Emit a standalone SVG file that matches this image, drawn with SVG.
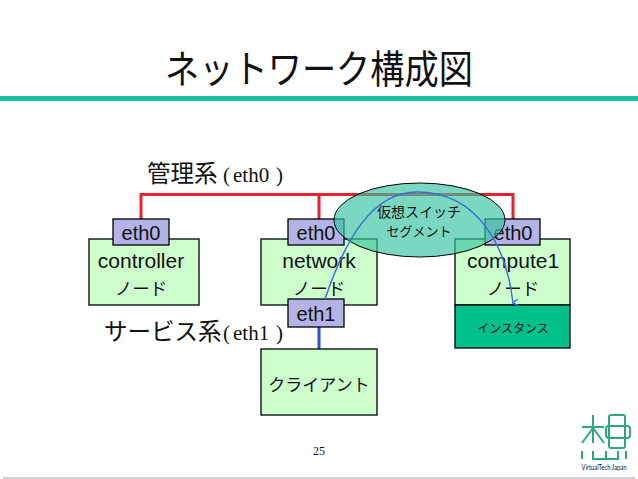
<svg xmlns="http://www.w3.org/2000/svg" width="638" height="479" viewBox="0 0 638 479">
<style>
.box{fill:#ccffcc;stroke:#000;stroke-width:1.3}
.port{fill:#b3b3e6;stroke:#000;stroke-width:1.3}
text{font-family:"Liberation Sans","Noto Sans CJK JP",sans-serif;fill:#111;text-anchor:middle}
.l{font-size:20px}
.n{font-size:21px}
.jp{font-family:"Noto Sans CJK JP",sans-serif}
.node{font-family:"Noto Sans CJK JP",sans-serif;font-size:17.500px}
.ser{font-family:"Liberation Serif","Noto Sans CJK JP",serif;font-size:21px}
.head{font-family:"Noto Sans CJK JP",sans-serif;font-size:23.500px;text-anchor:start}
.logo{fill:none;stroke:#2fa77d;stroke-width:2}
</style>
<defs><marker id="open" markerWidth="10" markerHeight="10" refX="5" refY="8.500" orient="auto" markerUnits="userSpaceOnUse" viewBox="0 0 10 10"><path d="M1.500 3.500L5 8.500L8.500 3.500" fill="none" stroke="#3b6fd8" stroke-width="1.500"/></marker></defs>
<rect width="638" height="479" fill="#fff"/>
<rect x="3" y="477" width="632" height="2" fill="#cfcfcf"/>
<text x="319" y="83" class="jp" font-size="38.500" textLength="308" lengthAdjust="spacingAndGlyphs">ネットワーク構成図</text>
<rect x="0" y="96" width="638" height="5" fill="#17c29c"/>
<g id="connectors">
<path d="M141 219V194.500H513V219M319 194.500V219" fill="none" stroke="#e8212b" stroke-width="3"/>
<path d="M319 327V349" fill="none" stroke="#2f4fd8" stroke-width="3"/>
</g>
<g id="controller"><rect class="box" x="89" y="239" width="110" height="66"/><text class="n" x="141" y="268">controller</text><text class="node" x="141" y="295">ノード</text></g>
<g id="network"><rect class="box" x="261" y="239" width="116" height="66"/><text class="n" x="319" y="268">network</text><text class="node" x="319" y="295">ノード</text></g>
<g id="compute1"><rect class="box" x="455" y="239" width="115" height="66"/><text class="n" x="513" y="268">compute1</text><text class="node" x="513" y="295">ノード</text></g>
<g id="instance"><rect x="455" y="305" width="115" height="43" fill="#00c08b" stroke="#000" stroke-width="1.300"/><text class="jp" x="513" y="333" font-size="12">インスタンス</text></g>
<g id="client"><rect class="box" x="261" y="349" width="116" height="66"/><text class="jp" x="319" y="391" font-size="17">クライアント</text></g>
<g id="eth0-controller"><rect class="port" x="113" y="219" width="56" height="26"/><text class="l" x="141" y="240">eth0</text></g>
<g id="eth0-network"><rect class="port" x="288" y="219" width="56" height="26"/><text class="l" x="316" y="240">eth0</text></g>
<g id="eth1-network"><rect class="port" x="288" y="299" width="56" height="28"/><text class="l" x="316" y="321">eth1</text></g>
<g id="eth0-compute"><rect class="port" x="485" y="219" width="55" height="26"/><text class="l" x="513" y="240">eth0</text></g>
<g id="segment"><ellipse cx="419.500" cy="220" rx="85.500" ry="37" fill="#35c4a0" fill-opacity=".66" stroke="#000" stroke-width="1"/><text class="jp" x="419" y="217" font-size="14">仮想スイッチ</text><text class="jp" x="419" y="236" font-size="13">セグメント</text></g>
<g id="flow"><path d="M325 299C345 240 372 192 417 192C480 192 507 250 513 303" fill="none" stroke="#3b6fd8" stroke-width="1.500" marker-end="url(#open)"/></g>
<text class="head" x="147" y="182">管理系<tspan class="ser" x="223">(</tspan><tspan class="ser" x="233">eth0</tspan><tspan class="ser" x="276">)</tspan></text>
<text class="head" x="104" y="340">サービス系<tspan class="ser" x="223">(</tspan><tspan class="ser" x="233">eth1</tspan><tspan class="ser" x="276">)</tspan></text>
<text x="319" y="455" font-size="12" style="font-family:'Liberation Serif',serif">25</text>
<g id="logo"><path class="logo" d="M582 427H604M593 415V443M593 428L582 443M593 428L604 443"/><rect class="logo" x="609" y="415" width="16" height="33" rx="2"/><rect class="logo" x="606" y="426" width="24" height="12" rx="3"/><path class="logo" d="M582 451V459M593 451V459H618V451M606 451V459M626 451V459"/></g>
<text x="604" y="470" font-size="7" textLength="45" lengthAdjust="spacingAndGlyphs" style="font-family:Lato,sans-serif">VirtualTech Japan</text>
</svg>
